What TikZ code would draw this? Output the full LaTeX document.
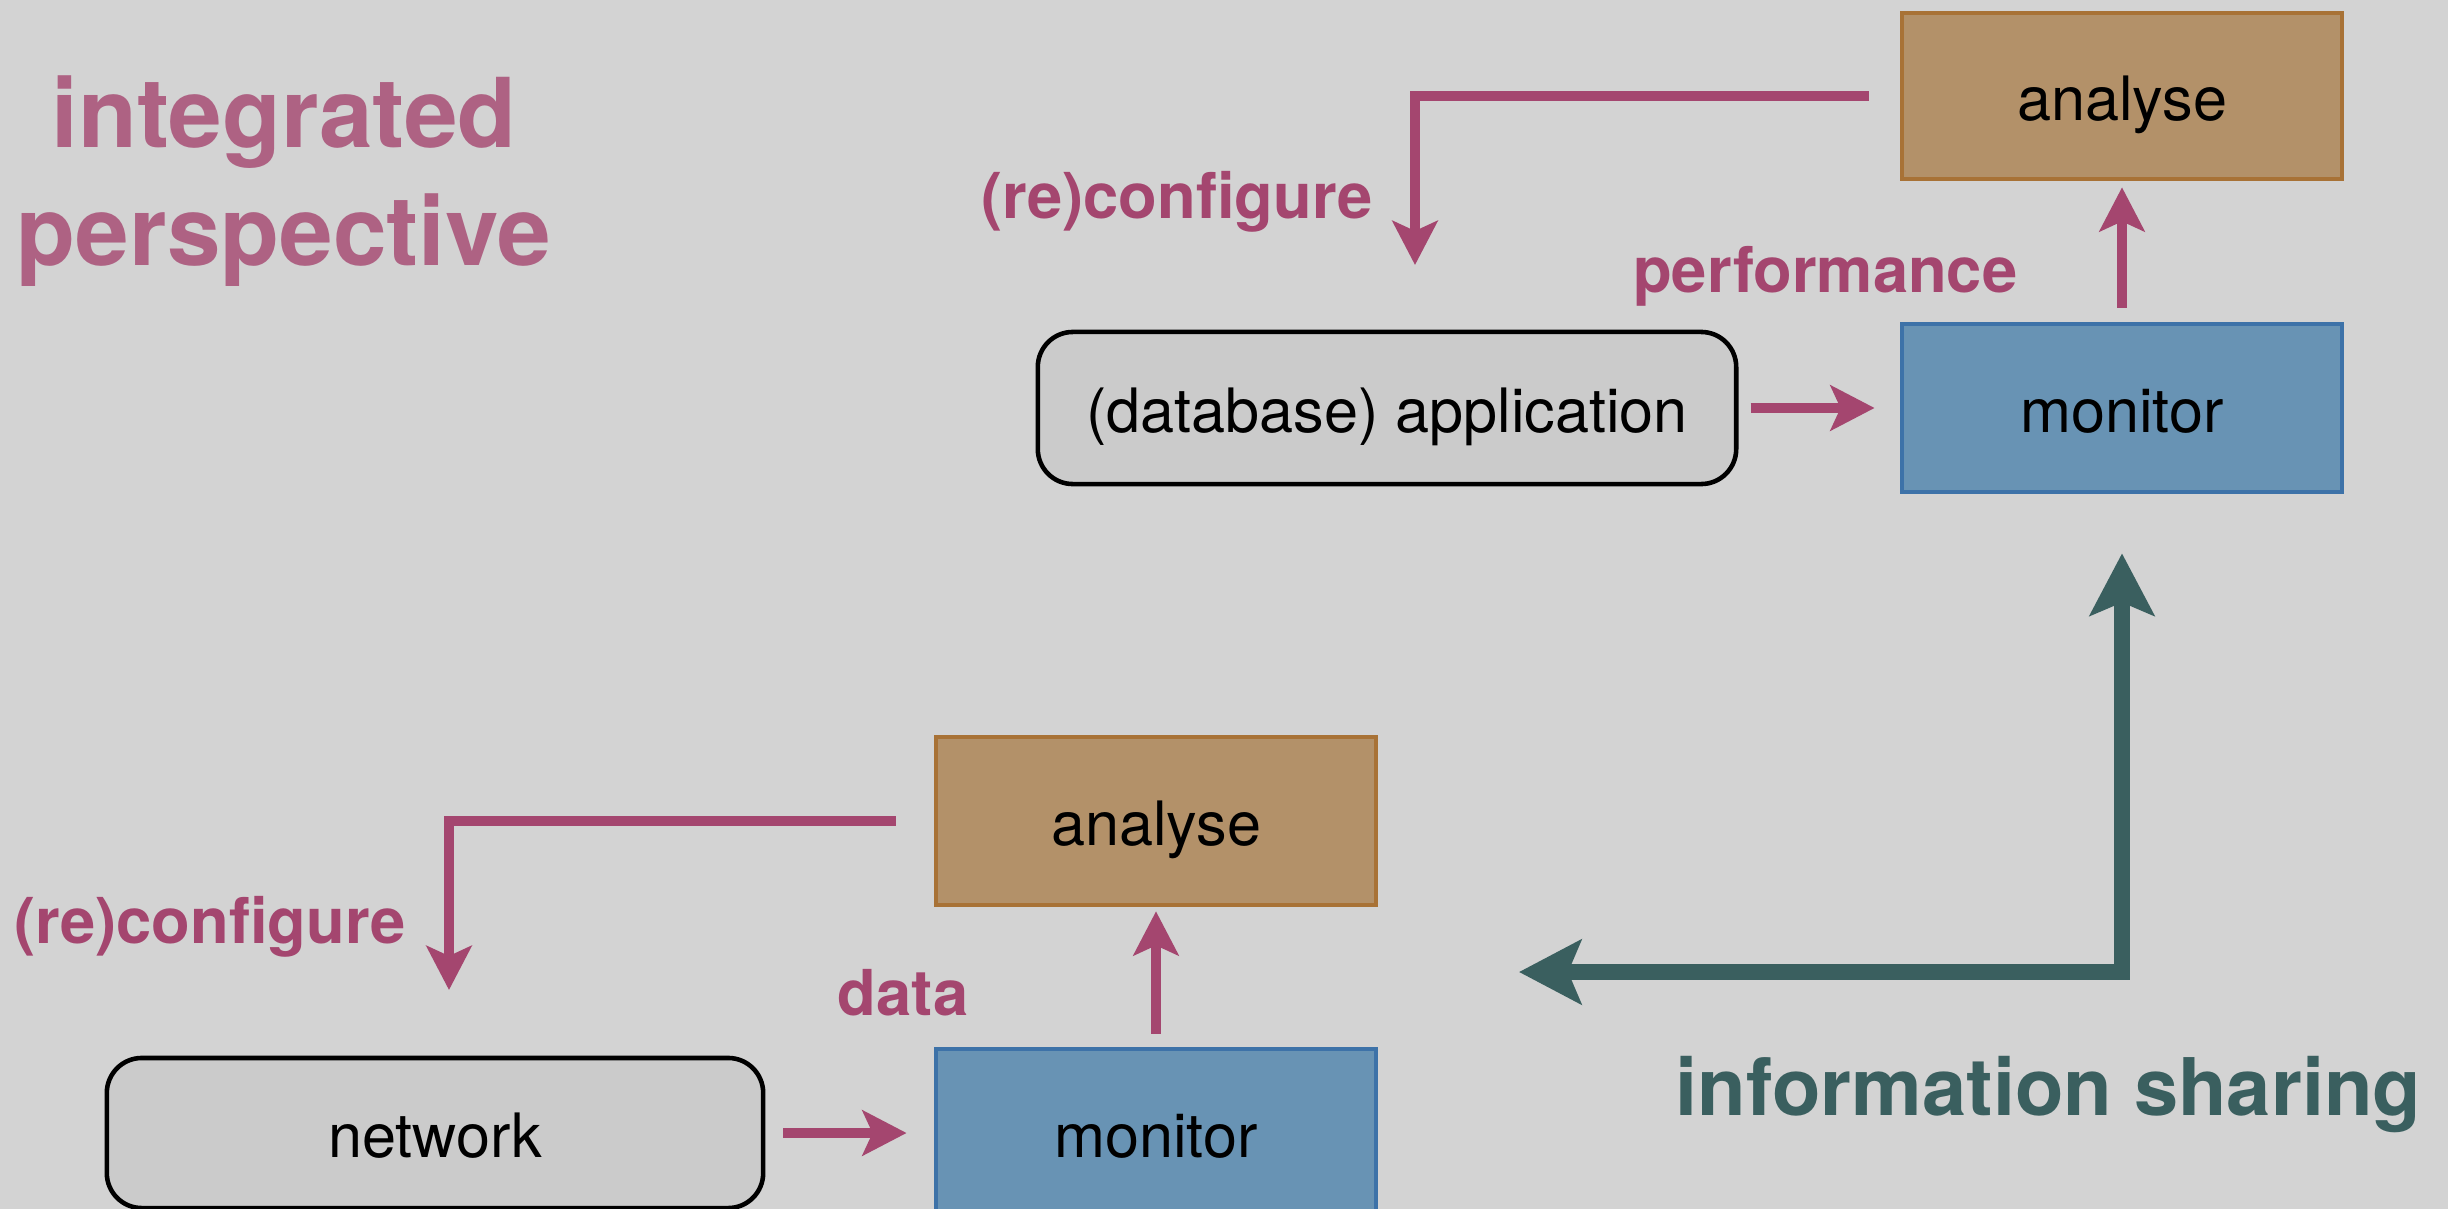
\documentclass[tikz,border=0pt]{standalone}
\usepackage{fontspec}
\setmainfont{TeX Gyre Heros}
\usetikzlibrary{arrows.meta}
\usetikzlibrary{positioning}
\definecolor{bgcol}{HTML}{D3D3D3}
\definecolor{boxgray}{HTML}{CBCBCB}
\definecolor{anafill}{HTML}{B39169}
\definecolor{anadraw}{HTML}{A87236}
\definecolor{monfill}{HTML}{6893B4}
\definecolor{mondraw}{HTML}{3D72A8}
\definecolor{flowcol}{HTML}{A4466F}
\definecolor{titlecol}{HTML}{AE6283}
\definecolor{sharecol}{HTML}{3A5F5F}
\tikzstyle{box} = [rectangle, inner sep=0pt, text height=0.48cm, text depth=0cm, font=\fontsize{17.4pt}{20pt}\selectfont]
\tikzstyle{system} = [box, rounded corners=0.35cm, draw=black, line width=1.3pt, fill=boxgray]
\tikzstyle{analyse} = [box, draw=anadraw, line width=1.3pt, fill=anafill, minimum width=4.40cm]
\tikzstyle{monitor} = [box, draw=mondraw, line width=1.3pt, fill=monfill, minimum width=4.40cm]
\tikzstyle{lbl} = [inner sep=0pt, text=flowcol, font=\fontsize{18pt}{20pt}\selectfont\bfseries]
\tikzstyle{title} = [inner sep=0pt, text=titlecol, font=\fontsize{27.4pt}{30pt}\selectfont\bfseries]
\tikzstyle{sharelbl} = [inner sep=0pt, text=sharecol, font=\fontsize{22.6pt}{25pt}\selectfont\bfseries]
\tikzstyle{flow} = [draw=flowcol, line width=0.1cm, -{Stealth[length=0.44cm, width=0.45cm, inset=0.1cm]}]
\tikzstyle{share} = [draw=sharecol, line width=0.16cm, {Stealth[length=0.62cm, width=0.64cm, inset=0.13cm]}-{Stealth[length=0.62cm, width=0.64cm, inset=0.13cm]}]

\begin{document}
\begin{tikzpicture}[x=0.01cm, y=-0.01cm]
\fill[bgcol] (0,0) rectangle (2448,1209);
\clip (0,0) rectangle (2448,1209);

\node (title1) [title, anchor=base] at (284,147) {integrated};
\node (title2) [title, anchor=base] at (284,265) {perspective};

\node (ana1) [analyse, minimum height=1.66cm] at (2122,96) {analyse};
\node (mon1) [monitor, minimum height=1.68cm] at (2122,408) {monitor};
\node (app) [system, minimum width=6.98cm, minimum height=1.52cm] at (1387,408) {(database) application};

\node (ana2) [analyse, minimum height=1.68cm] at (1156,821) {analyse};
\node (mon2) [monitor, minimum height=1.68cm] at (1156,1133) {monitor};
\node (net) [system, minimum width=6.56cm, minimum height=1.50cm] at (435,1133) {network};

\node (cfg1lbl) [lbl, anchor=base east] at (1373,218) {(re)configure};
\node (perflbl) [lbl, anchor=base east] at (2018,292) {performance};
\node (cfg2lbl) [lbl, anchor=base east] at (406,943) {(re)configure};
\node (datalbl) [lbl, anchor=base east] at (969,1015) {data};
\node (sharetxt) [sharelbl, anchor=base east] at (2422,1115) {information sharing};

\coordinate (cfg1end) at (1415,265);
\coordinate (cfg2end) at (449,990);
\coordinate (shareend) at (1519,972);

\draw[flow, shorten <=0.12cm, shorten >=0.25cm] (app.east) -- (mon1.west);
\draw[flow, shorten <=0.14cm, shorten >=0.06cm] (mon1.north) -- (ana1.south);
\draw[flow] ([xshift=-0.31cm]ana1.west) -| (cfg1end);

\draw[flow, shorten <=0.18cm, shorten >=0.27cm] (net.east) -- (mon2.west);
\draw[flow, shorten <=0.13cm, shorten >=0.04cm] (mon2.north) -- (ana2.south);
\draw[flow] ([xshift=-0.38cm]ana2.west) -| (cfg2end);

\draw[share] (shareend) -| ([yshift=-0.59cm]mon1.south);
\end{tikzpicture}
\end{document}
